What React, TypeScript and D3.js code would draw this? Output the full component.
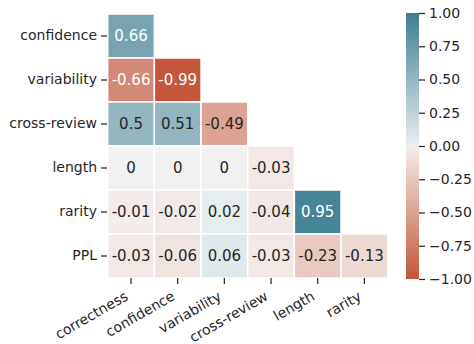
import React, { useEffect, useRef } from "react";
import * as d3 from "d3";

// correlation heatmap, lower triangle only (seaborn style)

const colLabels = ["correctness", "confidence", "variability", "cross-review", "length", "rarity"];
const rowLabels = ["confidence", "variability", "cross-review", "length", "rarity", "PPL"];

const confidenceRow = [0.66];
const variabilityRow = [-0.66, -0.99];
const crossReviewRow = [0.5, 0.51, -0.49];
const lengthRow = [0, 0, 0, -0.03];
const rarityRow = [-0.01, -0.02, 0.02, -0.04, 0.95];
const pplRow = [-0.03, -0.06, 0.06, -0.03, -0.23, -0.13];

const colorbarTicks = [-1, -0.75, -0.5, -0.25, 0, 0.25, 0.5, 0.75, 1];

const rows = [confidenceRow, variabilityRow, crossReviewRow, lengthRow, rarityRow, pplRow];

const TEXT = "#262626";
const FONT = "DejaVu Sans, sans-serif";

// diverging palette: red -> light tint -> gray -> light tint -> teal
const color = d3
  .scaleLinear<string>()
  .domain([-1, -0.0078, 0, 0.0078, 1])
  .range(["#c3553a", "#f3ecea", "#f0f1f0", "#e8eef0", "#3e7e91"])
  .interpolate(d3.interpolateRgb)
  .clamp(true);

function luminance(c: string) {
  const rgb = d3.rgb(c);
  const lin = [rgb.r, rgb.g, rgb.b].map((v) => {
    v = v / 255;
    return v <= 0.03928 ? v / 12.92 : Math.pow((v + 0.055) / 1.055, 2.4);
  });
  return 0.2126 * lin[0] + 0.7152 * lin[1] + 0.0722 * lin[2];
}

function Heatmap() {
  const ref = useRef<SVGSVGElement>(null);

  useEffect(() => {
    const svg = d3.select(ref.current);
    svg.selectAll("*").remove();

    const x = d3.scaleBand().domain(colLabels).range([107.7, 387.7]);
    const y = d3.scaleBand().domain(rowLabels).range([14, 278]);

    // cells
    const cells = rows.flatMap((vals, i) =>
      vals.map((v, j) => ({ row: rowLabels[i], col: colLabels[j], v }))
    );

    const g = svg.append("g");
    g.selectAll("rect")
      .data(cells)
      .enter()
      .append("rect")
      .attr("x", (d) => x(d.col)!)
      .attr("y", (d) => y(d.row)!)
      .attr("width", x.bandwidth())
      .attr("height", y.bandwidth())
      .attr("fill", (d) => color(d.v))
      .attr("stroke", "white")
      .attr("stroke-width", 1.5);

    g.selectAll("text")
      .data(cells)
      .enter()
      .append("text")
      .attr("x", (d) => x(d.col)! + x.bandwidth() / 2)
      .attr("y", (d) => y(d.row)! + y.bandwidth() / 2)
      .attr("text-anchor", "middle")
      .attr("dominant-baseline", "central")
      .style("font-family", FONT)
      .style("font-size", "15px")
      .attr("fill", (d) => (luminance(color(d.v)) > 0.408 ? TEXT : "#ffffff"))
      .text((d) => String(d.v));

    // y axis
    const yAxis = svg
      .append("g")
      .attr("transform", "translate(107,0)")
      .call(d3.axisLeft(y).tickSize(6).tickPadding(4));
    yAxis.select(".domain").remove();
    yAxis.selectAll("line").attr("stroke", TEXT).attr("stroke-width", 1.25);
    yAxis
      .selectAll("text")
      .attr("fill", TEXT)
      .style("font-family", FONT)
      .style("font-size", "14px");

    // x axis, labels rotated 30 degrees
    const xAxis = svg
      .append("g")
      .attr("transform", "translate(0,278)")
      .call(d3.axisBottom(x).tickSize(6));
    xAxis.select(".domain").remove();
    xAxis.selectAll("line").attr("stroke", TEXT).attr("stroke-width", 1.25);
    xAxis
      .selectAll("text")
      .attr("fill", TEXT)
      .attr("y", 0)
      .attr("dy", 0)
      .attr("text-anchor", "end")
      .attr("transform", "translate(-2,21) rotate(-30)")
      .style("font-family", FONT)
      .style("font-size", "14px");

    // colorbar
    const cbX = 406;
    const cbW = 13;
    const cy = d3.scaleLinear().domain([-1, 1]).range([279, 13]);
    const grad = svg
      .append("defs")
      .append("linearGradient")
      .attr("id", "cbgrad")
      .attr("x1", 0)
      .attr("y1", 1)
      .attr("x2", 0)
      .attr("y2", 0);
    d3.range(0, 257).forEach((k) => {
      const t = k / 256;
      grad
        .append("stop")
        .attr("offset", t)
        .attr("stop-color", color(-1 + 2 * t));
    });
    svg
      .append("rect")
      .attr("x", cbX)
      .attr("y", cy(1))
      .attr("width", cbW)
      .attr("height", cy(-1) - cy(1))
      .attr("fill", "url(#cbgrad)");

    const cAxis = svg
      .append("g")
      .attr("transform", `translate(${cbX + cbW},0)`)
      .call(
        d3
          .axisRight(cy)
          .tickValues(colorbarTicks)
          .tickFormat(d3.format(".2f"))
          .tickSize(6)
          .tickPadding(4)
      );
    cAxis.select(".domain").remove();
    cAxis.selectAll("line").attr("stroke", TEXT).attr("stroke-width", 1.25);
    cAxis
      .selectAll("text")
      .attr("fill", TEXT)
      .style("font-family", FONT)
      .style("font-size", "14px");
  }, []);

  return (
    <svg
      ref={ref}
      width={474}
      height={344}
      style={{ position: "absolute", left: 0, top: 0, background: "white" }}
    />
  );
}

export default function App() {
  return <Heatmap />;
}
